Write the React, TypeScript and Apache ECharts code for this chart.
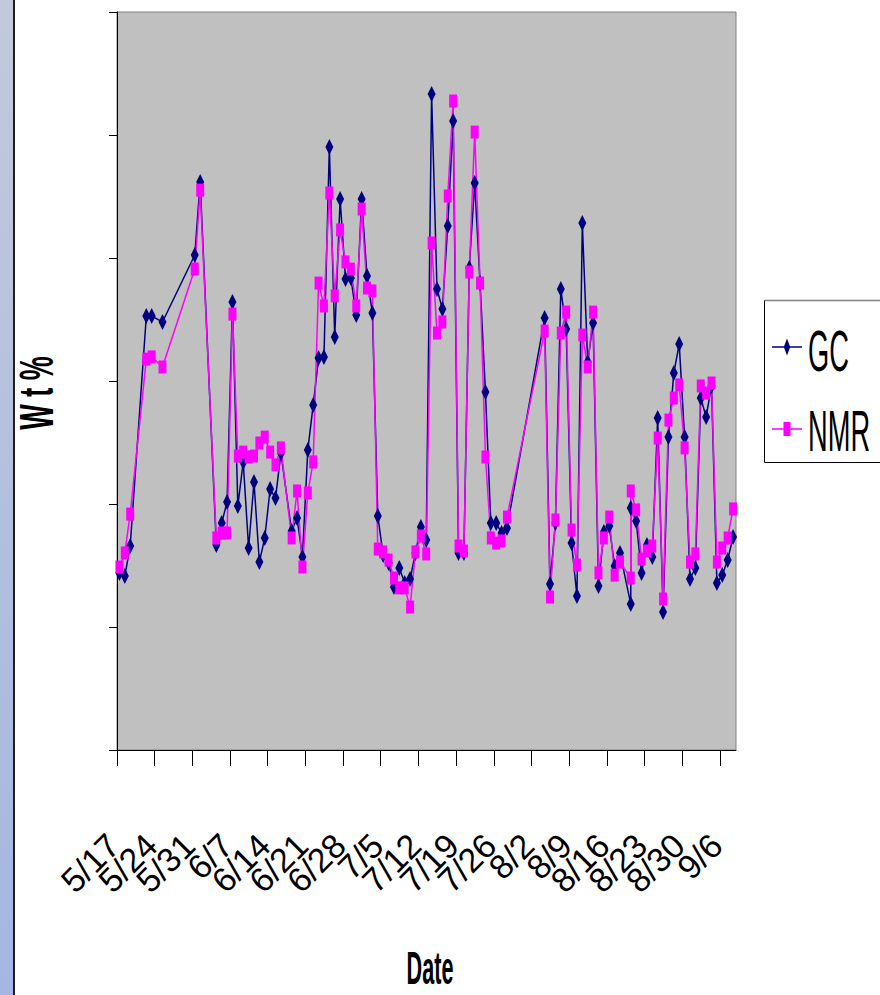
import React, { useEffect, useRef } from 'react';
import * as echarts from 'echarts';

// Sampling dates (M/D) — two samples were taken on 8/20
const DATES = [
  '5/17', '5/18', '5/19', '5/22', '5/23', '5/25', '5/31',
  '6/1', '6/4', '6/5', '6/6', '6/7', '6/8', '6/9', '6/10', '6/11', '6/12', '6/13', '6/14', '6/15', '6/16',
  '6/18', '6/19', '6/20', '6/21', '6/22', '6/23', '6/24', '6/25', '6/26', '6/27', '6/28', '6/29', '6/30',
  '7/1', '7/2', '7/3', '7/4', '7/5', '7/6', '7/7', '7/8', '7/9', '7/10', '7/11', '7/12', '7/13', '7/14',
  '7/15', '7/16', '7/17', '7/18', '7/19', '7/20', '7/21', '7/22', '7/23', '7/24', '7/25', '7/26', '7/27', '7/28',
  '8/4', '8/5', '8/6', '8/7', '8/8', '8/9', '8/10', '8/11', '8/12', '8/13', '8/14', '8/15', '8/16', '8/17', '8/18',
  '8/20', '8/20', '8/21', '8/22', '8/23', '8/24', '8/25', '8/26', '8/27', '8/28', '8/29', '8/30', '8/31',
  '9/1', '9/2', '9/3', '9/4', '9/5', '9/6', '9/7', '9/8',
];

const GC = [
  7.20, 7.07, 8.29, 17.64, 17.64, 17.40, 20.12, 23.09, 8.33, 9.23,
  10.08, 18.21, 9.92, 11.71, 8.21, 10.89, 7.64, 8.62, 10.61, 10.24,
  12.07, 8.90, 9.43, 7.85, 12.20, 14.02, 15.93, 15.98, 24.51, 16.79,
  22.40, 19.15, 19.19, 17.68, 22.40, 19.27, 17.76, 9.51, 7.93, 7.60,
  6.63, 7.40, 6.79, 6.95, 8.01, 9.07, 8.54, 26.67, 18.74, 17.93,
  21.30, 25.57, 8.01, 8.01, 19.59, 23.05, 18.98, 14.55, 9.23, 9.23,
  8.82, 9.02, 17.56, 6.75, 9.23, 18.74, 17.11, 8.41, 6.26, 21.42,
  15.77, 17.36, 6.67, 8.86, 9.11, 7.48, 8.01, 5.93, 9.84, 9.31,
  7.20, 8.33, 7.85, 13.50, 5.61, 12.72, 15.33, 16.50, 12.72, 6.95,
  7.40, 14.31, 13.54, 14.80, 6.79, 7.11, 7.72, 8.66,
];

const NMR = [
  7.44, 8.01, 9.59, 15.89, 15.98, 15.57, 19.55, 22.76, 8.62, 8.82,
  8.82, 17.72, 11.95, 12.11, 11.91, 11.95, 12.48, 12.72, 12.11, 11.59,
  12.28, 8.62, 10.53, 7.44, 10.45, 11.71, 18.98, 18.05, 22.64, 18.46,
  21.14, 19.84, 19.55, 18.05, 21.99, 18.78, 18.66, 8.17, 8.05, 7.72,
  6.99, 6.59, 6.59, 5.81, 8.05, 8.70, 7.97, 20.61, 16.95, 17.40,
  22.52, 26.38, 8.29, 8.09, 19.43, 25.12, 18.98, 11.91, 8.62, 8.41,
  8.50, 9.47, 17.03, 6.22, 9.35, 16.95, 17.80, 8.94, 7.52, 16.87,
  15.57, 17.80, 7.20, 8.62, 9.47, 7.11, 7.64, 6.99, 10.53, 9.76,
  7.76, 8.09, 8.29, 12.68, 6.14, 13.41, 14.31, 14.84, 12.28, 7.64,
  7.97, 14.80, 14.51, 14.92, 7.64, 8.21, 8.62, 9.80,
];

const TICK_LABELS = [
  '5/17', '5/24', '5/31', '6/7', '6/14', '6/21', '6/28', '7/5', '7/12',
  '7/19', '7/26', '8/2', '8/9', '8/16', '8/23', '8/30', '9/6',
];

const AXIS_START = '5/17';
const AXIS_END = '9/9';
const Y_MIN = 0;
const Y_MAX = 30;
const Y_STEP = 5;
const SAMPLE_TIME = 0.45; // fraction of the day at which samples were taken

function dayIndex(s: string): number {
  const [m, d] = s.split('/').map(Number);
  const [m0, d0] = AXIS_START.split('/').map(Number);
  return Math.round((Date.UTC(2004, m - 1, d) - Date.UTC(2004, m0 - 1, d0)) / 86400000);
}

const GC_ICON =
  'path://M0,0L0.01,0L0,0.01Z M0,22L0.01,22L0,21.99Z M0,10.25L30,10.25L30,11.75L0,11.75Z M15,2.5L18.2,11L15,19.5L11.8,11Z';
const NMR_ICON =
  'path://M0,0L0.01,0L0,0.01Z M0,22L0.01,22L0,21.99Z M0,10.25L30,10.25L30,11.75L0,11.75Z M11.5,4L18.5,4L18.5,18L11.5,18Z';

export default function App() {
  const ref = useRef<HTMLDivElement>(null);

  useEffect(() => {
    if (!ref.current) return;
    const chart = echarts.init(ref.current, undefined, { renderer: 'svg' });
    const tickValues = TICK_LABELS.map(dayIndex);
    // Unlabelled guard positions right next to the first and last ticks keep the
    // overlap check on rotated labels from hiding the real first/last labels.
    const first = tickValues[0];
    const last = tickValues[tickValues.length - 1];
    const axisValues = [first, first + 0.001, ...tickValues.slice(1, -1), last - 0.001, last];
    const gcData = DATES.map((d, i) => [dayIndex(d) + SAMPLE_TIME, GC[i]]);
    const nmrData = DATES.map((d, i) => [dayIndex(d) + SAMPLE_TIME, NMR[i]]);
    const labelFont = "'Liberation Sans Narrow', 'Arial Narrow', 'Liberation Sans', sans-serif";

    chart.setOption({
      animation: false,
      backgroundColor: '#ffffff',
      grid: {
        left: 117,
        right: 144,
        top: 12,
        bottom: 245,
        show: true,
        backgroundColor: '#C0C0C0',
        borderColor: '#808080',
        borderWidth: 1,
        containLabel: false,
        outerBoundsMode: 'none',
      },
      xAxis: {
        type: 'value',
        min: 0,
        max: dayIndex(AXIS_END),
        axisLine: { show: true, onZero: false, lineStyle: { color: '#000', width: 1 } },
        axisTick: { show: true, length: 16, customValues: axisValues, lineStyle: { color: '#000' } },
        axisLabel: {
          customValues: axisValues,
          showMinLabel: true,
          showMaxLabel: true,
          rotate: 45,
          margin: 86,
          padding: [0, 5, 0, 0],
          fontSize: 34,
          fontFamily: labelFont,
          color: '#000',
          formatter: (v: number) => {
            const i = tickValues.indexOf(v);
            return i >= 0 ? TICK_LABELS[i] : '';
          },
        },
        splitLine: { show: false },
      },
      yAxis: {
        type: 'value',
        min: Y_MIN,
        max: Y_MAX,
        interval: Y_STEP,
        axisLine: { show: true, onZero: false, lineStyle: { color: '#000', width: 1 } },
        axisTick: { show: true, length: 8, lineStyle: { color: '#000' } },
        axisLabel: { show: false },
        splitLine: { show: false },
      },
      legend: {
        left: 772,
        top: 336,
        orient: 'vertical',
        itemWidth: 30,
        itemHeight: 22,
        itemGap: 60,
        padding: 0,
        selectedMode: false,
        formatter: () => '',
        itemStyle: { borderWidth: 0 },
        data: [
          { name: 'GC', icon: GC_ICON },
          { name: 'NMR', icon: NMR_ICON },
        ],
      },
      graphic: [
        {
          type: 'rect',
          shape: { x: 0, y: 0, width: 13, height: 995 },
          style: {
            fill: new echarts.graphic.LinearGradient(0, 0, 0, 1, [
              { offset: 0, color: '#C3C9DA' },
              { offset: 1, color: '#A4B6E2' },
            ]),
          },
        },
        { type: 'rect', shape: { x: 13, y: 0, width: 2, height: 995 }, style: { fill: '#1E1E1E' } },
        {
          type: 'rect',
          shape: { x: 764.5, y: 300.5, width: 130, height: 162 },
          style: { fill: '#ffffff', stroke: '#000000', lineWidth: 1 },
        },
        {
          type: 'line',
          shape: { x1: 764.5, y1: 300.5, x2: 880, y2: 300.5 },
          style: { stroke: '#808080', lineWidth: 1.5 },
        },
        {
          type: 'text',
          x: 808,
          y: 351,
          scaleX: 0.47,
          style: {
            text: 'GC',
            fontSize: 58,
            fontFamily: "'Liberation Sans', Arial, sans-serif",
            fill: '#000',
            align: 'left',
            verticalAlign: 'middle',
          },
        },
        {
          type: 'text',
          x: 808,
          y: 431,
          scaleX: 0.47,
          style: {
            text: 'NMR',
            fontSize: 58,
            fontFamily: "'Liberation Sans', Arial, sans-serif",
            fill: '#000',
            align: 'left',
            verticalAlign: 'middle',
          },
        },
        {
          type: 'text',
          x: 36,
          y: 393,
          rotation: Math.PI / 2,
          scaleX: 0.55,
          style: {
            text: 'W t %',
            fontSize: 49,
            fontWeight: 'bold',
            fontFamily: "'Liberation Sans', Arial, sans-serif",
            fill: '#000',
            align: 'center',
            verticalAlign: 'middle',
          },
        },
        {
          type: 'text',
          x: 430,
          y: 968,
          scaleX: 0.47,
          style: {
            text: 'Date',
            fontSize: 46,
            fontWeight: 'bold',
            fontFamily: "'Liberation Sans', Arial, sans-serif",
            fill: '#000',
            align: 'center',
            verticalAlign: 'middle',
          },
        },
      ],
      series: [
        {
          name: 'GC',
          type: 'line',
          data: gcData,
          symbol: 'diamond',
          symbolSize: [8, 16],
          showAllSymbol: true,
          itemStyle: { color: '#000080', borderWidth: 0 },
          lineStyle: { color: '#000080', width: 1.5 },
          emphasis: { disabled: true },
        },
        {
          name: 'NMR',
          type: 'line',
          data: nmrData,
          symbol: 'rect',
          symbolSize: [8, 13],
          showAllSymbol: true,
          itemStyle: { color: '#FF00FF', borderWidth: 0 },
          lineStyle: { color: '#FF00FF', width: 1.5 },
          emphasis: { disabled: true },
        },
      ],
    });

    return () => chart.dispose();
  }, []);

  return (
    <div
      ref={ref}
      style={{ position: 'absolute', left: 0, top: 0, width: 880, height: 995, background: '#fff' }}
    />
  );
}
